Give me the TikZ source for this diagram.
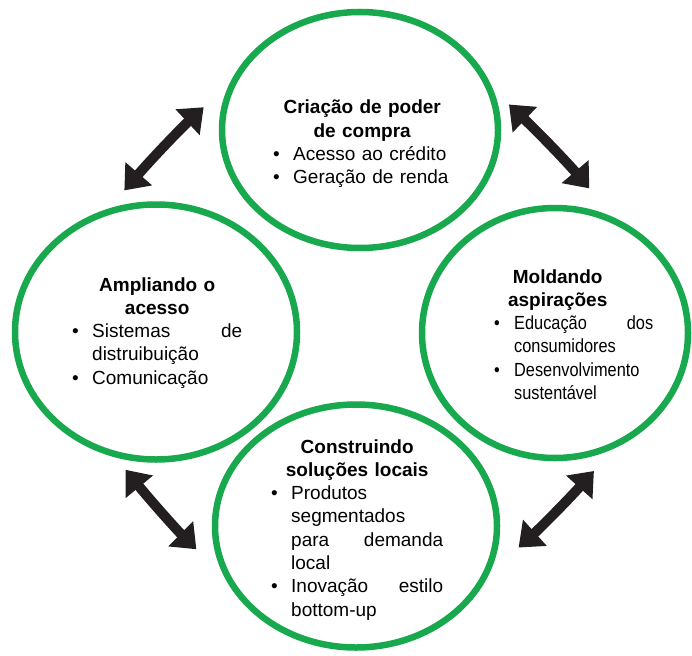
\documentclass[tikz,border=0pt]{standalone}
\usepackage{fontspec}
\setmainfont{Liberation Sans}
\newfontfamily\condensed[FakeStretch=0.86]{Liberation Sans}
\usetikzlibrary{shapes.geometric,arrows.meta}
\definecolor{ringgreen}{RGB}{24,168,78}
\definecolor{arrowblack}{RGB}{35,31,32}
\newcommand{\ttl}[1]{\makebox[\linewidth]{\bfseries #1}}
\newcommand{\bul}[1]{\makebox[20pt][l]{\textbullet}#1}
\newcommand{\cnt}[1]{\hspace*{20pt}#1}
\tikzset{
  ring/.style={draw=ringgreen, line width=6.5pt, ellipse, inner sep=0pt},
  txt/.style={anchor=base west, inner sep=0pt, align=left, font=\fontsize{19}{23.3}\selectfont},
  dbl/.style={draw=arrowblack, line width=10pt, {Triangle[width=34pt,length=22pt]}-{Triangle[width=34pt,length=22pt]}}
}

\begin{document}
\begin{tikzpicture}[x=1pt,y=-1pt]
  \useasboundingbox (0,0) rectangle (692,655);
  % the four rings
  \node[ring, minimum width=276pt, minimum height=236pt] (compra) at (360,130) {};
  \node[ring, minimum width=282pt, minimum height=255pt] (acesso) at (156,332) {};
  \node[ring, minimum width=266pt, minimum height=250pt] (aspira) at (555,333) {};
  \node[ring, minimum width=282pt, minimum height=243pt] (solucoes) at (356,526) {};
  % texts
  \node[txt, text width=178pt] (compraT) at (273,114) {\ttl{Criação de poder}\\ \ttl{de compra}\\
    \bul{Acesso ao crédito}\\ \bul{Geração de renda}};
  \node[txt, text width=170pt] (acessoT) at (72,291) {\ttl{Ampliando o}\\ \ttl{acesso}\\
    \bul{Sistemas\hfill de}\\ \cnt{distruibuição}\\ \bul{Comunicação}};
  \node[txt, text width=159pt] (aspiraT) at (494,283) {\ttl{Moldando\hspace*{32pt}}\\ \ttl{aspirações\hspace*{32pt}}\\
    \condensed \bul{Educação\hfill dos}\\ \cnt{consumidores}\\ \bul{Desenvolvimento}\\ \cnt{sustentável}};
  \node[txt, text width=172pt] (solucoesT) at (271,453) {\ttl{Construindo}\\ \ttl{soluções locais}\\
    \bul{Produtos}\\ \cnt{segmentados}\\ \cnt{para\hfill demanda}\\ \cnt{local}\\
    \bul{Inovação\hfill estilo}\\ \cnt{bottom-up}};
  % arrows
  \draw[dbl, shorten <=24pt, shorten >=36pt] (acesso.111) to[bend left=3] (compra.160);
  \draw[dbl, shorten <=22pt, shorten >=38pt] (compra.17) to[bend left=3] (aspira.63);
  \draw[dbl, shorten <=16pt, shorten >=39pt] (acesso.252) to[bend right=3] (solucoes.201);
  \draw[dbl, shorten <=40pt, shorten >=30pt] (solucoes.-20) to[bend right=3] (aspira.-63);
\end{tikzpicture}
\end{document}
